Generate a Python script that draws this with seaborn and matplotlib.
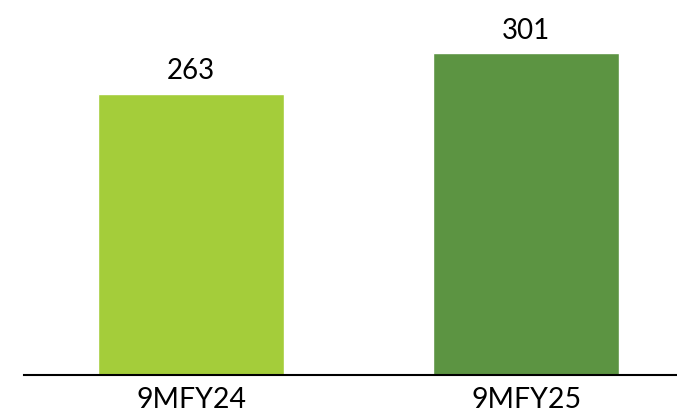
import matplotlib
matplotlib.use("Agg")
import matplotlib.pyplot as plt
import seaborn as sns
import pandas as pd

periods = ["9MFY24", "9MFY25"]
values = [263, 301]
bar_colors = ["#A4CD3A", "#5C9442"]

sns.set_theme(style="white")
plt.rcParams["font.family"] = ["Lato", "DejaVu Sans"]

df = pd.DataFrame({"period": periods, "value": values})

fig = plt.figure(figsize=(6.77, 4.13), dpi=100)
ax = fig.add_axes([0.035, 0.093, 0.965, 0.907])

sns.barplot(data=df, x="period", y="value", hue="period", palette=bar_colors,
            width=0.555, saturation=1, legend=False, ax=ax)

for container in ax.containers:
    ax.bar_label(container, fmt="%d", padding=7, fontsize=20, color="black")

ax.set_xlim(-0.5, 1.45)
ax.set_ylim(0, 351)
ax.set_xlabel("")
ax.set_ylabel("")
ax.set_yticks([])
for side in ("top", "right", "left"):
    ax.spines[side].set_visible(False)
ax.spines["bottom"].set_color("black")
ax.spines["bottom"].set_linewidth(1.5)
ax.tick_params(axis="x", length=0, pad=9, labelsize=20.5, labelcolor="black")

fig.savefig("out.png", dpi=100)
